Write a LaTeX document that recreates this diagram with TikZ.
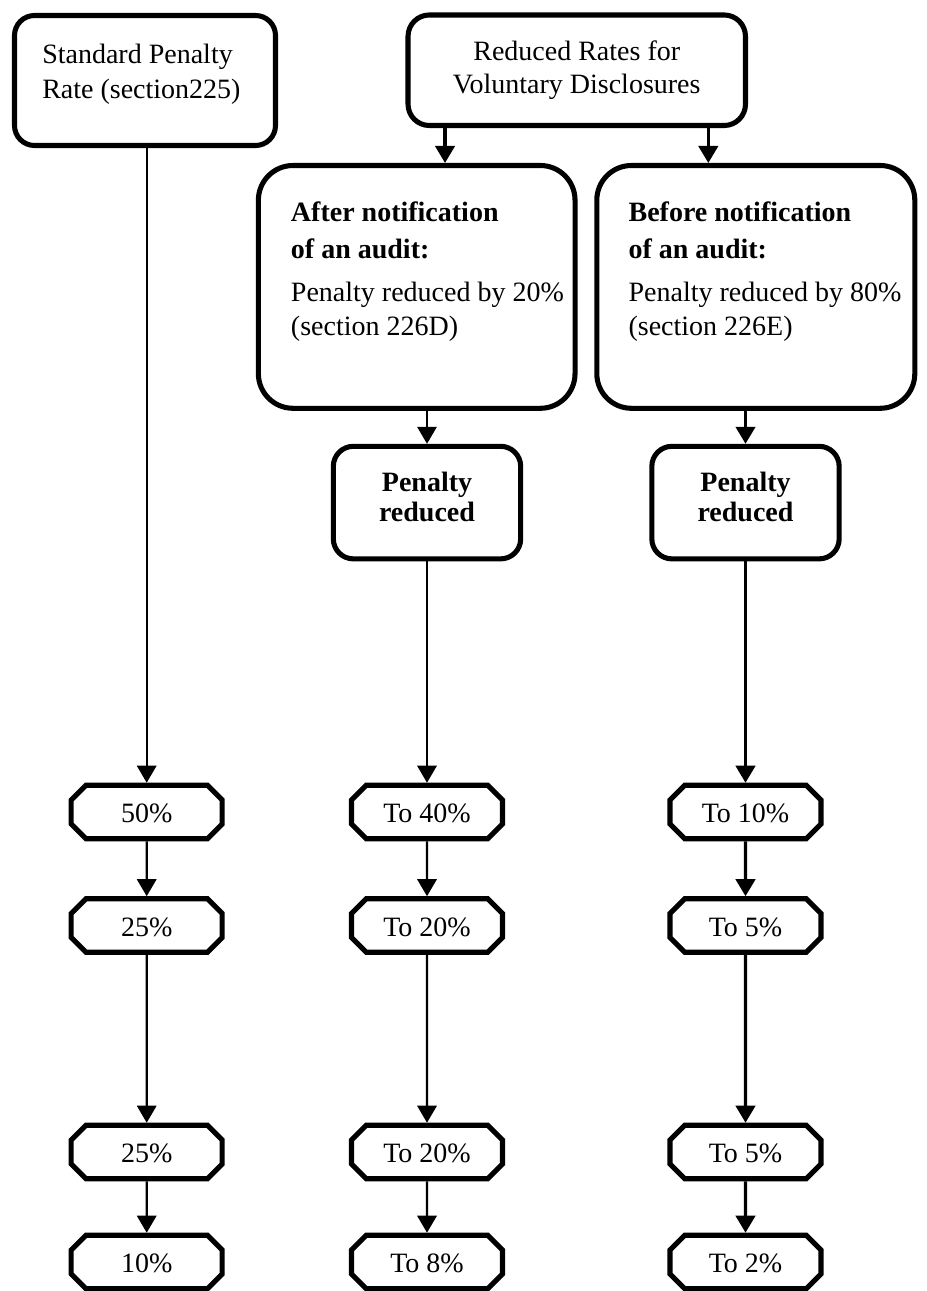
\documentclass[tikz,border=0pt]{standalone}
\usepackage{fontspec}
\setmainfont{Liberation Serif}
\usetikzlibrary{arrows.meta,shapes.misc}
\tikzset{
  box/.style={draw, line width=3.8pt, fill=white, inner sep=0pt},
  octbox/.style={draw, line width=3.8pt, chamfered rectangle, chamfered rectangle xsep=12pt,
    minimum width=113.25pt, minimum height=40.1pt, inner sep=0pt,
    text height=16pt, text depth=0pt,
    font=\fontsize{21}{25}\selectfont},
  txt/.style={inner sep=0pt, align=left, anchor=base west},
  arr/.style={line width=1.6pt, -{Triangle[length=12.75pt,width=14.5pt]}},
  arrthick/.style={line width=2.4pt, -{Triangle[length=12.75pt,width=14.5pt]}},
}
\begin{document}
\begin{tikzpicture}[x=0.75pt,y=-0.75pt]
\useasboundingbox (0,0) rectangle (926,1291);
% top boxes
\node[box, rounded corners=15pt, minimum width=195.75pt, minimum height=97.5pt] (std) at (145,80.5) {};
\node[txt, font=\fontsize{21}{26.25}\selectfont] (stdtext) at (42,99) {Standard Penalty\\Rate (section225)};
\node[box, rounded corners=16pt, minimum width=253.1pt, minimum height=82.9pt, align=center,
  font=\fontsize{21}{25}\selectfont] (red) at (576.75,70.25) {Reduced Rates for\\Voluntary Disclosures};
\node[box, rounded corners=26pt, minimum width=237.5pt, minimum height=182.1pt] (after) at (416.7,286.9) {};
\node[box, rounded corners=26pt, minimum width=238.5pt, minimum height=182.1pt] (before) at (755.8,286.9) {};
\node[txt, font=\fontsize{21}{25}\selectfont] (aftertext) at (290.7,335)
  {\textbf{After notification}\\[2.5pt]\textbf{of an audit:}\\[7.5pt]Penalty reduced by 20\%\\(section 226D)};
\node[txt, font=\fontsize{21}{25}\selectfont] (beforetext) at (628.3,335)
  {\textbf{Before notification}\\[2.5pt]\textbf{of an audit:}\\[7.5pt]Penalty reduced by 80\%\\(section 226E)};
\node[box, rounded corners=15pt, minimum width=140.5pt, minimum height=84.4pt, align=center,
  font=\fontsize{21}{22.5}\selectfont\bfseries] (p1) at (427,502.6) {Penalty\\reduced\\[-13.5pt]\mbox{}};
\node[box, rounded corners=15pt, minimum width=140.5pt, minimum height=84.4pt, align=center,
  font=\fontsize{21}{22.5}\selectfont\bfseries] (p2) at (745.5,502.6) {Penalty\\reduced\\[-13.5pt]\mbox{}};
% octagon boxes
\node[octbox] (s1) at (146.7,812) {50\%};
\node[octbox] (s2) at (146.7,925.5) {25\%};
\node[octbox] (s3) at (146.7,1152) {25\%};
\node[octbox] (s4) at (146.7,1262) {10\%};
\node[octbox] (m1) at (427,812) {To 40\%};
\node[octbox] (m2) at (427,925.5) {To 20\%};
\node[octbox] (m3) at (427,1152) {To 20\%};
\node[octbox] (m4) at (427,1262) {To 8\%};
\node[octbox] (r1) at (745.5,812) {To 10\%};
\node[octbox] (r2) at (745.5,925.5) {To 5\%};
\node[octbox] (r3) at (745.5,1152) {To 5\%};
\node[octbox] (r4) at (745.5,1262) {To 2\%};
% column coordinates
\coordinate (xa) at (445,0);
\coordinate (xb) at (708.3,0);
% connectors
\draw[arr] (std.south -| s1.north) -- (s1.north);
\draw[arrthick] (red.south -| xa) -- (after.north -| xa);
\draw[arrthick] (red.south -| xb) -- (before.north -| xb);
\draw[arr] (after.south -| p1.north) -- (p1.north);
\draw[arrthick] (before.south -| p2.north) -- (p2.north);
\draw[arr] (p1.south) -- (m1.north);
\draw[arrthick] (p2.south) -- (r1.north);
\draw[arr] (s1) -- (s2);
\draw[arr] (s2) -- (s3);
\draw[arr] (s3) -- (s4);
\draw[arr] (m1) -- (m2);
\draw[arr] (m2) -- (m3);
\draw[arr] (m3) -- (m4);
\draw[arrthick] (r1) -- (r2);
\draw[arrthick] (r2) -- (r3);
\draw[arrthick] (r3) -- (r4);
\end{tikzpicture}
\end{document}
